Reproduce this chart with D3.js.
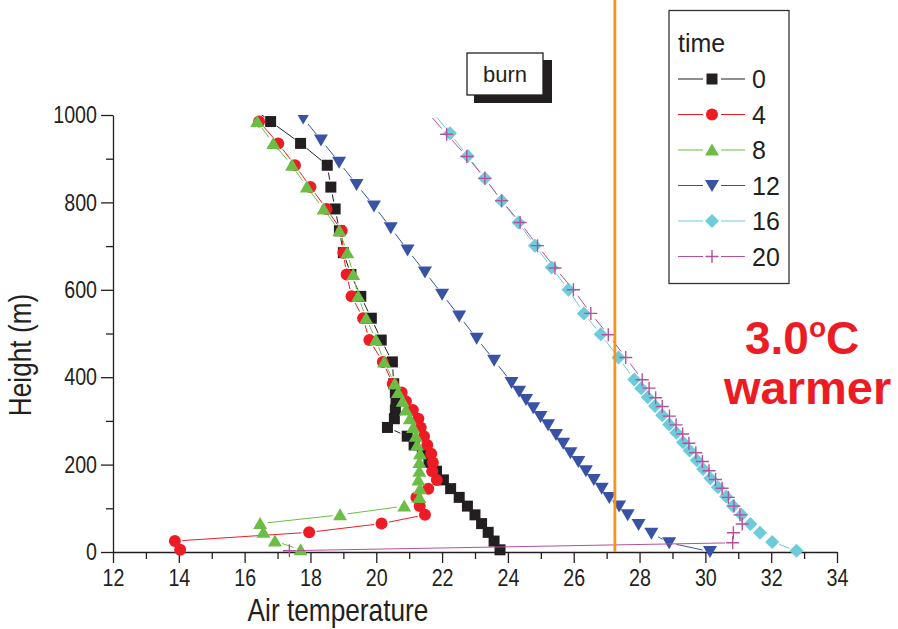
<!DOCTYPE html>
<html>
<head>
<meta charset="utf-8">
<script src="https://cdn.jsdelivr.net/npm/d3@7"></script>
<style>
  html, body { margin: 0; padding: 0; background: #fff; }
  svg { display: block; }
  text { font-family: "Liberation Sans", Arial, Helvetica, sans-serif; }
</style>
</head>
<body>
<svg id="chart" width="898" height="629"></svg>
<script>
// ---------------- data ----------------
// Legend keys (hour of the run)
const timeLabels = ["0", "4", "8", "12", "16", "20"];

// Height levels (m) of the profiles for hours 0, 4 and 8
const heightA = [1035, 985, 935, 885, 835, 785, 735, 685, 635, 585, 535, 485, 435,
  385, 365, 345, 325, 305, 285, 265, 245, 225, 205, 185, 165, 145, 125, 105, 85, 65, 45, 25, 5];
// Height levels (m) for hour 12
const heightB = [993, 943, 892, 841, 792, 742, 691, 641, 590, 540, 489, 439,
  388, 368, 349, 330, 310, 291, 269, 249, 227, 207, 186, 166, 146, 125, 105, 85, 63, 43, 21, 1];
// Height levels (m) for hour 16
const heightC = [1008, 958, 906, 855, 804, 754, 701, 651, 600, 546, 498, 445, 395,
  375, 354, 334, 313, 292, 273, 251, 232, 210, 190, 169, 148, 127, 105, 85, 64, 44, 23, 3];
// Height levels (m) for hour 20
const heightD = [1006, 956, 905, 855, 804, 754, 701, 650, 600, 546, 497, 445, 394,
  375, 353, 333, 311, 291, 270, 249, 227, 207, 186, 166, 146, 125, 105, 85, 64, 44, 21, 3];

// Air temperature (°C) at each level
const temp0 = [15.90, 16.79, 17.70, 18.51, 18.62, 18.75, 18.88, 19.00, 19.23, 19.53, 19.85, 20.15, 20.49,
  20.53, 20.58, 20.60, 20.58, 20.55, 20.34, 20.94, 21.15, 21.40, 21.60, 21.83, 22.04, 22.26, 22.52, 22.77,
  23.00, 23.20, 23.40, 23.58, 23.76];
const temp4 = [16.05, 16.44, 17.02, 17.53, 18.00, 18.49, 18.95, 19.00, 19.10, 19.25, 19.60, 19.79, 20.20,
  20.50, 20.77, 20.90, 21.11, 21.28, 21.35, 21.45, 21.55, 21.67, 21.72, 21.70, 21.84, 21.58, 21.22, 21.32,
  21.48, 20.16, 17.96, 13.88, 14.04];
const temp8 = [16.00, 16.38, 16.87, 17.44, 17.89, 18.40, 18.88, 19.12, 19.30, 19.45, 19.69, 19.99, 20.24,
  20.56, 20.66, 20.80, 20.90, 21.02, 21.12, 21.20, 21.24, 21.33, 21.31, 21.31, 21.28, 21.33, 21.31, 20.85,
  18.90, 16.47, 16.57, 16.92, 17.70];
const temp12 = [17.78, 18.32, 18.87, 19.40, 19.93, 20.44, 20.95, 21.48, 22.00, 22.52, 23.05, 23.58,
  24.11, 24.34, 24.55, 24.77, 24.99, 25.22, 25.46, 25.68, 25.90, 26.14, 26.37, 26.61, 26.85, 27.08,
  27.38, 27.64, 27.97, 28.36, 28.90, 30.14];
const temp16 = [21.69, 22.24, 22.78, 23.30, 23.81, 24.32, 24.82, 25.33, 25.84, 26.31, 26.82, 27.36, 27.84,
  28.05, 28.25, 28.47, 28.69, 28.90, 29.12, 29.32, 29.52, 29.74, 29.93, 30.15, 30.38, 30.63, 30.84,
  31.10, 31.37, 31.66, 32.03, 32.77];
const temp20 = [21.56, 22.14, 22.75, 23.30, 23.81, 24.37, 24.90, 25.43, 25.99, 26.52, 27.05, 27.58, 28.08,
  28.29, 28.49, 28.69, 28.91, 29.11, 29.31, 29.50, 29.71, 29.91, 30.11, 30.31, 30.51, 30.70, 30.87,
  31.05, 31.12, 30.85, 30.83, 17.36];

// Axis ticks
const xTicks = [12, 14, 16, 18, 20, 22, 24, 26, 28, 30, 32, 34];
const xMinorTicks = [13, 15, 17, 19, 21, 23, 25, 27, 29, 31, 33];
const yTicks = [0, 200, 400, 600, 800, 1000];
const yMinorTicks = [100, 300, 500, 700, 900];

// Reference temperature drawn as a vertical line
const burnTemp = 27.25;

// ---------------- chart ----------------
const svg = d3.select("#chart");
const ink = "#231f20";

const x = d3.scaleLinear().domain([12, 34]).range([113, 837]);
const y = d3.scaleLinear().domain([0, 1000]).range([552, 115]);

const series = [
  { t: temp0,  h: heightA, color: "#231f20", shape: "square" },
  { t: temp4,  h: heightA, color: "#ed1c24", shape: "circle" },
  { t: temp8,  h: heightA, color: "#6cbd45", shape: "triUp" },
  { t: temp12, h: heightB, color: "#3953a4", shape: "triDown" },
  { t: temp16, h: heightC, color: "#6dcbdb", shape: "diamond" },
  { t: temp20, h: heightD, color: "#b5509c", shape: "plus" }
];

function shapePath(shape) {
  switch (shape) {
    case "square":  return "M-5.5,-5.5H5.5V5.5H-5.5Z";
    case "circle":  return d3.symbol(d3.symbolCircle, Math.PI * 6 * 6)();
    case "triUp":   return "M0,-6.5L7,5.5L-7,5.5Z";
    case "triDown": return "M0,6.5L7,-5.5L-7,-5.5Z";
    case "diamond": return "M0,-7L7,0L0,7L-7,0Z";
    case "plus":    return "M-6.5,0H6.5M0,-6.5V6.5";
  }
}

function drawMarker(g, shape, color, px, py) {
  const p = g.append("path")
    .attr("d", shapePath(shape))
    .attr("transform", `translate(${px},${py})`);
  if (shape === "plus") p.attr("fill", "none").attr("stroke", color).attr("stroke-width", 1.4);
  else p.attr("fill", color);
}

// Line segments between symbols, with a small gap around each symbol
function drawGappedLine(g, pts, color, gap) {
  for (let i = 0; i < pts.length - 1; i++) {
    const [x1, y1] = pts[i], [x2, y2] = pts[i + 1];
    const dx = x2 - x1, dy = y2 - y1, d = Math.hypot(dx, dy);
    if (d <= 2 * gap) continue;
    const ux = dx / d, uy = dy / d;
    g.append("line")
      .attr("x1", x1 + ux * gap).attr("y1", y1 + uy * gap)
      .attr("x2", x2 - ux * gap).attr("y2", y2 - uy * gap)
      .attr("stroke", color).attr("stroke-width", 1);
  }
}

svg.append("defs").append("clipPath").attr("id", "plotClip")
  .append("rect").attr("x", 0).attr("y", y(1000)).attr("width", 898).attr("height", 629 - y(1000));

// Axes
svg.append("g").attr("transform", `translate(${x(12)},0)`)
  .call(d3.axisLeft(y).tickValues(yTicks).tickFormat(d3.format("d"))
    .tickSize(12).tickSizeOuter(0).tickPadding(4));
svg.append("g").attr("transform", `translate(${x(12)},0)`)
  .call(d3.axisLeft(y).tickValues(yMinorTicks).tickSize(7).tickSizeOuter(0).tickFormat(""))
  .select(".domain").remove();
svg.append("g").attr("transform", `translate(0,${y(0)})`)
  .call(d3.axisBottom(x).tickValues(xTicks).tickFormat(d3.format("d"))
    .tickSize(11).tickSizeOuter(0).tickPadding(6));
svg.append("g").attr("transform", `translate(0,${y(0)})`)
  .call(d3.axisBottom(x).tickValues(xMinorTicks).tickSize(7).tickSizeOuter(0).tickFormat(""))
  .select(".domain").remove();

svg.selectAll(".domain, .tick line").attr("stroke", ink).attr("stroke-width", 1.3);

// Narrow tick labels
const squeeze = 0.82;
svg.selectAll(".tick text").each(function () {
  const t = d3.select(this);
  const tx = +t.attr("x") || 0;
  t.attr("x", tx / squeeze)
    .attr("transform", `scale(${squeeze},1)`)
    .attr("fill", ink)
    .style("font-size", "24px")
    .style("font-family", "'Liberation Sans', Arial, sans-serif");
});

// Axis titles
svg.append("text")
  .attr("transform", `translate(338,621) scale(${squeeze},1)`)
  .attr("text-anchor", "middle").attr("fill", ink)
  .style("font-size", "32px").text("Air temperature");
svg.append("text")
  .attr("transform", `translate(31,355) rotate(-90) scale(${squeeze},1)`)
  .attr("text-anchor", "middle").attr("fill", ink)
  .style("font-size", "32px").text("Height (m)");

// Profiles
const plot = svg.append("g").attr("clip-path", "url(#plotClip)");
series.forEach(s => {
  const g = plot.append("g");
  const pts = s.t.map((t, i) => [x(t), y(s.h[i])]);
  drawGappedLine(g, pts, s.color, 7.5);
  s.t.forEach((t, i) => {
    if (s.h[i] <= 1000) drawMarker(g, s.shape, s.color, x(t), y(s.h[i]));
  });
});

// Vertical reference line
svg.append("line")
  .attr("x1", x(burnTemp)).attr("x2", x(burnTemp))
  .attr("y1", 0).attr("y2", y(0))
  .attr("stroke", "#f7941d").attr("stroke-width", 2.8);

// "burn" label box with drop shadow
svg.append("rect").attr("x", 474).attr("y", 60).attr("width", 78).attr("height", 43).attr("fill", ink);
svg.append("rect").attr("x", 467).attr("y", 53).attr("width", 76).attr("height", 42)
  .attr("fill", "#fff").attr("stroke", ink).attr("stroke-width", 1.3);
svg.append("text").attr("x", 505).attr("y", 82).attr("text-anchor", "middle")
  .attr("fill", ink).style("font-size", "22px").text("burn");

// Legend
const legend = svg.append("g");
legend.append("rect").attr("x", 669).attr("y", 10.5).attr("width", 120).attr("height", 273)
  .attr("fill", "#fff").attr("stroke", "#333").attr("stroke-width", 1.3);
legend.append("text").attr("x", 678).attr("y", 52).attr("fill", ink)
  .style("font-size", "25px").text("time");
const legendY = d3.scaleLinear().domain([0, 5]).range([79, 256.5]);
series.forEach((s, i) => {
  const ly = legendY(i);
  legend.append("line").attr("x1", 678).attr("x2", 703).attr("y1", ly).attr("y2", ly)
    .attr("stroke", s.color).attr("stroke-width", 1);
  legend.append("line").attr("x1", 721).attr("x2", 745).attr("y1", ly).attr("y2", ly)
    .attr("stroke", s.color).attr("stroke-width", 1);
  drawMarker(legend, s.shape, s.color, 712, ly);
  legend.append("text").attr("x", 752).attr("y", ly + 9).attr("fill", ink)
    .style("font-size", "25px").text(timeLabels[i]);
});

// Annotation
const note = svg.append("text").attr("x", 745).attr("y", 354).attr("fill", "#ed1c24")
  .style("font-weight", "bold").style("font-size", "46px");
note.append("tspan").text("3.0");
note.append("tspan").attr("dy", -17).style("font-size", "28px").text("o");
note.append("tspan").attr("dy", 17).text("C");
svg.append("text").attr("x", 724).attr("y", 404).attr("fill", "#ed1c24")
  .style("font-weight", "bold").style("font-size", "47px").text("warmer");
</script>
</body>
</html>
